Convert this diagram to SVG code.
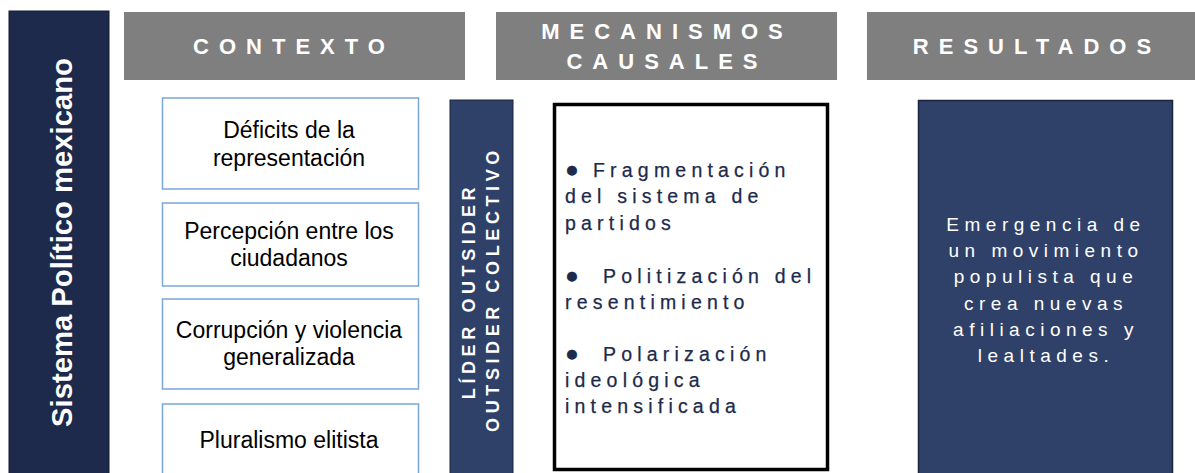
<svg xmlns="http://www.w3.org/2000/svg" width="1195" height="473" viewBox="0 0 1195 473">
<style>
.hdr{fill:#7f7f7f}
.hdrt{fill:#ffffff;font-family:"Liberation Sans",Arial,sans-serif;font-weight:bold;font-size:22px;letter-spacing:10px;text-anchor:middle}
.ctx{fill:#ffffff;stroke:#7aa6da;stroke-width:1.5}
.ctxt{fill:#000000;font-family:"Liberation Sans",Arial,sans-serif;font-size:23px;text-anchor:middle}
.mech{fill:#1c2a4c;font-family:"Liberation Sans",Arial,sans-serif;font-size:19.5px;letter-spacing:5.2px;stroke:#1c2a4c;stroke-width:0.25}
.bul{font-size:23px}
.res{fill:#ffffff;font-family:"Liberation Sans",Arial,sans-serif;font-size:19px;letter-spacing:5.5px;text-anchor:middle}
.vt{fill:#ffffff;font-family:"Liberation Sans",Arial,sans-serif;font-weight:bold;text-anchor:middle}
</style>
<rect width="1195" height="473" fill="#ffffff"/>
<g id="sistema">
<rect x="9" y="11" width="100" height="470" fill="#1e2a4b" stroke="#111a30" stroke-width="1"/>
<text class="vt" transform="translate(72,242.5) rotate(-90)" font-size="30" textLength="369" lengthAdjust="spacingAndGlyphs">Sistema  Político mexicano</text>
</g>
<g id="h-contexto">
<rect class="hdr" x="124" y="12" width="341" height="68"/>
<text class="hdrt" x="294" y="54">CONTEXTO</text>
</g>
<g id="h-mecanismos">
<rect class="hdr" x="496" y="12" width="341" height="68"/>
<text class="hdrt" x="667" y="39">MECANISMOS</text>
<text class="hdrt" x="667" y="69">CAUSALES</text>
</g>
<g id="h-resultados">
<rect class="hdr" x="867" y="12" width="340" height="68"/>
<text class="hdrt" x="1037" y="54">RESULTADOS</text>
</g>
<g id="ctx1">
<rect class="ctx" x="162.5" y="98" width="256" height="91"/>
<text class="ctxt" x="289" y="138">Déficits de la</text>
<text class="ctxt" x="289" y="166">representación</text>
</g>
<g id="ctx2">
<rect class="ctx" x="162.5" y="203" width="256" height="83"/>
<text class="ctxt" x="289" y="239">Percepción entre los</text>
<text class="ctxt" x="289" y="266">ciudadanos</text>
</g>
<g id="ctx3">
<rect class="ctx" x="162.5" y="299" width="256" height="90"/>
<text class="ctxt" x="289" y="338">Corrupción y violencia</text>
<text class="ctxt" x="289" y="365">generalizada</text>
</g>
<g id="ctx4">
<rect class="ctx" x="162.5" y="404" width="256" height="80"/>
<text class="ctxt" x="289" y="448">Pluralismo elitista</text>
</g>
<g id="lider">
<rect x="450" y="100" width="63" height="380" fill="#2f4169" stroke="#1a2440" stroke-width="1"/>
<text class="vt" transform="translate(475,291) rotate(-90)" font-size="18" letter-spacing="4.6">LÍDER OUTSIDER</text>
<text class="vt" transform="translate(499,289) rotate(-90)" font-size="18" letter-spacing="4.6">OUTSIDER COLECTIVO</text>
</g>
<g id="mecanismos">
<rect x="554.5" y="104.5" width="273" height="365" fill="#ffffff" stroke="#000000" stroke-width="3.5"/>
<text class="mech" y="177"><tspan class="bul" x="565">●</tspan><tspan x="593">Fragmentación</tspan></text>
<text class="mech" x="565" y="203">del sistema de</text>
<text class="mech" x="565" y="230">partidos</text>
<text class="mech" y="283"><tspan class="bul" x="565">●</tspan><tspan x="603">Politización del</tspan></text>
<text class="mech" x="565" y="309">resentimiento</text>
<text class="mech" y="361"><tspan class="bul" x="565">●</tspan><tspan x="603">Polarización</tspan></text>
<text class="mech" x="565" y="387">ideológica</text>
<text class="mech" x="565" y="413">intensificada</text>
</g>
<g id="resultado">
<rect x="918.5" y="100.5" width="254" height="380" fill="#2f4169" stroke="#1a2440" stroke-width="1.5"/>
<text class="res" x="1046" y="231">Emergencia de</text>
<text class="res" x="1046" y="257">un movimiento</text>
<text class="res" x="1046" y="283">populista que</text>
<text class="res" x="1046" y="310">crea nuevas</text>
<text class="res" x="1046" y="336">afiliaciones y</text>
<text class="res" x="1046" y="362">lealtades.</text>
</g>
<g id="connectors"></g>
</svg>
